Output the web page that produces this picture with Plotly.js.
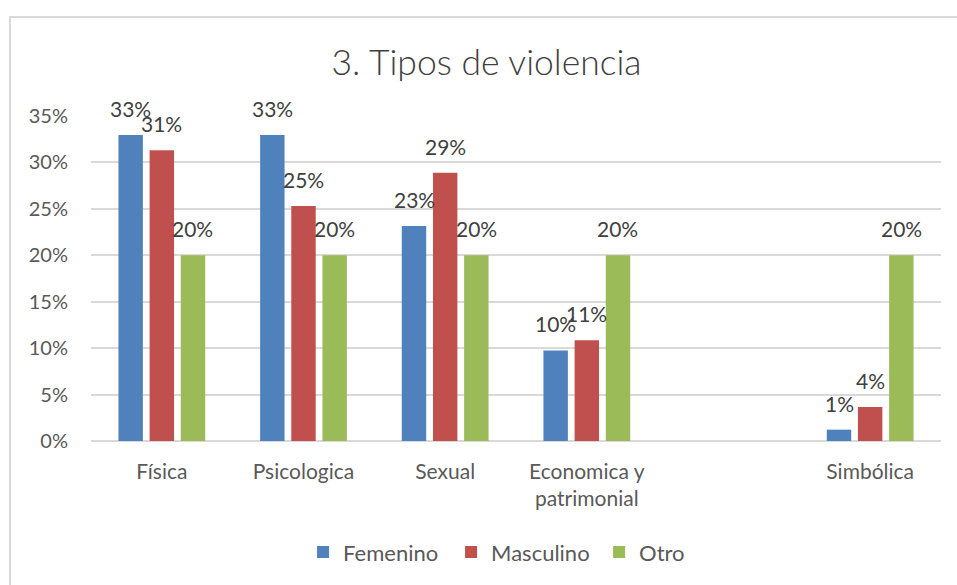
<!DOCTYPE html>
<html>
<head>
<meta charset="utf-8">
<script src="https://cdn.plot.ly/plotly-3.0.1.min.js"></script>
<style>
  html, body { margin: 0; padding: 0; background: #fff; overflow: hidden; }
  #wrap { position: relative; width: 957px; height: 585px; }
  #chart { width: 957px; height: 585px; }
  #frame { position: absolute; left: 9px; top: 16px; width: 1000px; height: 700px;
           border-left: 2px solid #d9d9d9; border-top: 2px solid #d9d9d9; pointer-events: none; }
</style>
</head>
<body>
<div id="wrap">
  <div id="chart"></div>
  <div id="frame"></div>
</div>
<script>
const categories = ["Física", "Psicologica", "Sexual", "Economica y<br>patrimonial", "\u00a0", "Simbólica"];
const femenino  = [0.3295, 0.3295, 0.2315, 0.0975, null, 0.0122];
const masculino = [0.3130, 0.2530, 0.2890, 0.1085, null, 0.0366];
const otro      = [0.20, 0.20, 0.20, 0.20, null, 0.20];
const seriesNames = ["Femenino", "Masculino", "Otro"];
const seriesColors = ["#4f81bd", "#c0504d", "#9bbb59"];

const fontFam = "Lato, 'Open Sans', sans-serif";
const W = 957, H = 585;
const margin = { l: 91, r: 16, t: 116, b: 144 };
const bargap = 0.34, bargroupgap = 0.216;
const values = [femenino, masculino, otro];

const traces = values.map((v, i) => ({
  type: "bar",
  name: seriesNames[i],
  x: categories,
  y: v,
  marker: { color: seriesColors[i] },
  hoverinfo: "skip"
}));

// data labels as annotations, offset to each bar's centre within its group
const plotW = W - margin.l - margin.r;
const slot = (1 - bargap) * (plotW / categories.length) / values.length;
const annotations = [];
values.forEach((v, i) => {
  v.forEach((val, j) => {
    if (val === null) return;
    annotations.push({
      x: categories[j], y: val, xref: "x", yref: "y",
      text: Math.round(val * 100) + "%",
      showarrow: false,
      xanchor: "center", yanchor: "bottom",
      xshift: (i - (values.length - 1) / 2) * slot,
      yshift: 12,
      font: { family: fontFam, size: 21, color: "#404040" }
    });
  });
});

const layout = {
  width: W, height: H,
  margin: margin,
  paper_bgcolor: "#ffffff",
  plot_bgcolor: "#ffffff",
  font: { family: fontFam, size: 20, color: "#595959" },
  title: { text: "3. Tipos de violencia", font: { family: fontFam, size: 35.5, color: "#404040", weight: 300 },
           x: 0.5084, xanchor: "center", y: 0.893, yanchor: "middle" },
  barmode: "group",
  bargap: bargap,
  bargroupgap: bargroupgap,
  annotations: annotations,
  xaxis: {
    type: "category",
    showgrid: false,
    showline: false,
    ticks: "",
    tickfont: { family: fontFam, size: 21, color: "#595959" },
    ticklabelstandoff: 16,
    fixedrange: true
  },
  yaxis: {
    range: [0, 0.35],
    dtick: 0.05,
    tickformat: ".0%",
    showgrid: true,
    gridcolor: "#d9d9d9",
    gridwidth: 2,
    zeroline: true,
    zerolinecolor: "#d9d9d9",
    zerolinewidth: 2,
    showline: false,
    ticks: "",
    ticklabelstandoff: 22,
    tickfont: { family: fontFam, size: 20, color: "#595959" },
    fixedrange: true
  },
  showlegend: true,
  legend: {
    orientation: "h",
    x: 0.2495, xanchor: "left",
    y: -0.342, yanchor: "middle",
    entrywidth: 103,
    font: { family: fontFam, size: 22, color: "#595959" },
    itemclick: false
  }
};

Plotly.newPlot("chart", traces, layout, { displayModeBar: false, staticPlot: true });
</script>
</body>
</html>
